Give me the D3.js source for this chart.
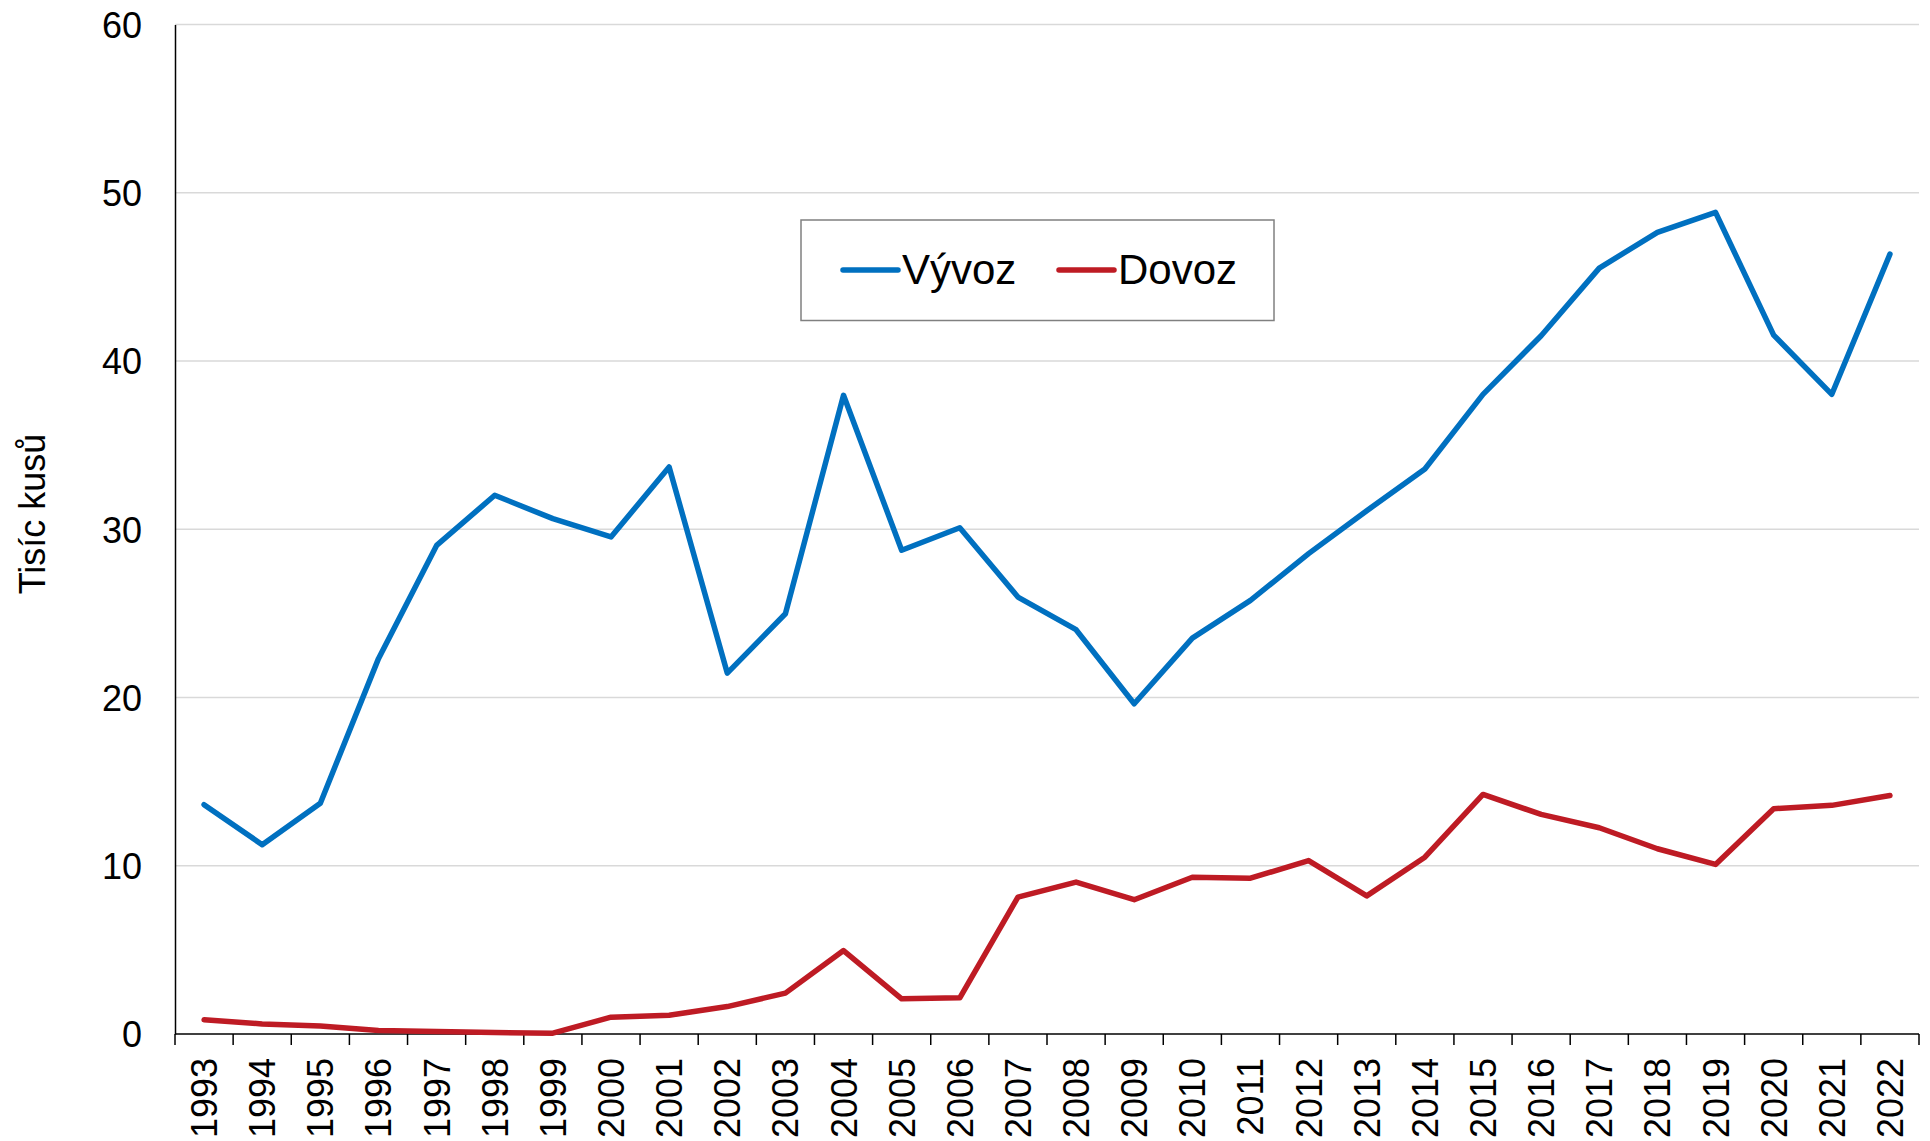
<!DOCTYPE html>
<html>
<head>
<meta charset="utf-8">
<script src="https://cdn.jsdelivr.net/npm/d3@7"></script>
<style>
  body { margin: 0; background: #fff; }
  text { font-family: "Liberation Sans", Arial, sans-serif; fill: #000; }
</style>
</head>
<body>
<div id="chart"></div>
<script>
// data (thousands of pieces)
var years = ["1993","1994","1995","1996","1997","1998","1999","2000","2001","2002",
             "2003","2004","2005","2006","2007","2008","2009","2010","2011","2012",
             "2013","2014","2015","2016","2017","2018","2019","2020","2021","2022"];
var vyvoz = [13.63, 11.25, 13.72, 22.31, 29.04, 32.02, 30.63, 29.54, 33.70, 21.45,
             24.98, 37.96, 28.75, 30.09, 25.97, 24.03, 19.63, 23.53, 25.77, 28.55,
             31.1, 33.58, 38.02, 41.5, 45.52, 47.65, 48.83, 41.54, 38.02, 46.35];
var dovoz = [0.84, 0.6, 0.47, 0.21, 0.15, 0.09, 0.05, 1.0, 1.12, 1.63,
             2.43, 4.96, 2.09, 2.15, 8.13, 9.03, 7.98, 9.32, 9.26, 10.31,
             8.21, 10.51, 14.24, 13.05, 12.26, 11.01, 10.08, 13.39, 13.59, 14.18];
var yTicks = [0, 10, 20, 30, 40, 50, 60];
var seriesNames = ["Vývoz", "Dovoz"];
var colors = ["#0070c0", "#be1b24"];

var W = 1930, H = 1141;
var margin = {top: 24.5, right: 11, bottom: 107, left: 175};

var svg = d3.select("#chart").append("svg")
    .attr("width", W)
    .attr("height", H);

var x = d3.scaleBand()
    .domain(years)
    .range([margin.left, W - margin.right])
    .padding(0);
var y = d3.scaleLinear()
    .domain([0, 60])
    .range([H - margin.bottom, margin.top]);

var cx = function(yr) { return x(yr) + x.bandwidth() / 2; };

// gridlines
svg.append("g").selectAll("line")
    .data(yTicks.filter(function(d) { return d > 0; }))
  .enter().append("line")
    .attr("x1", margin.left).attr("x2", W - margin.right)
    .attr("y1", function(d) { return y(d); })
    .attr("y2", function(d) { return y(d); })
    .attr("stroke", "#d9d9d9")
    .attr("stroke-width", 1.6);

// y axis
var yAxis = svg.append("g")
    .attr("transform", "translate(" + margin.left + ",0)")
    .call(d3.axisLeft(y).tickValues(yTicks).tickSize(0).tickPadding(33));
yAxis.select(".domain").attr("stroke", "#000").attr("stroke-width", 1.5);
yAxis.selectAll("text")
    .style("font-size", "36px")
    .attr("dy", "0.36em");

// x axis (ticks between categories)
var xAxis = svg.append("g");
var baseY = y(0);
xAxis.append("line")
    .attr("x1", margin.left).attr("x2", W - margin.right)
    .attr("y1", baseY).attr("y2", baseY)
    .attr("stroke", "#000").attr("stroke-width", 1.5);
var bounds = years.map(function(d) { return x(d); }).concat([x.range()[1]]);
xAxis.selectAll(".tick")
    .data(bounds)
  .enter().append("line")
    .attr("x1", function(d) { return d; })
    .attr("x2", function(d) { return d; })
    .attr("y1", baseY).attr("y2", baseY + 11)
    .attr("stroke", "#000").attr("stroke-width", 1.5);
xAxis.selectAll("text")
    .data(years)
  .enter().append("text")
    .attr("transform", function(d) { return "translate(" + cx(d) + "," + (baseY + 24) + ") rotate(-90)"; })
    .attr("text-anchor", "end")
    .attr("dy", "0.36em")
    .style("font-size", "36px")
    .text(function(d) { return d; });

// y title
svg.append("text")
    .attr("transform", "translate(45,514) rotate(-90)")
    .attr("text-anchor", "middle")
    .style("font-size", "36px")
    .text("Tisíc kusů");

// lines
var line = d3.line()
    .x(function(d, i) { return cx(years[i]); })
    .y(function(d) { return y(d); });

[vyvoz, dovoz].forEach(function(s, i) {
  svg.append("path")
      .datum(s)
      .attr("fill", "none")
      .attr("stroke", colors[i])
      .attr("stroke-width", 5.5)
      .attr("stroke-linejoin", "round")
      .attr("stroke-linecap", "round")
      .attr("d", line);
});

// legend
var lg = svg.append("g");
lg.append("rect")
    .attr("x", 801).attr("y", 220)
    .attr("width", 473).attr("height", 100.5)
    .attr("fill", "#fff")
    .attr("stroke", "#808080")
    .attr("stroke-width", 1.5);
var lx = [843, 1059];
seriesNames.forEach(function(n, i) {
  lg.append("line")
      .attr("x1", lx[i]).attr("x2", lx[i] + 55)
      .attr("y1", 270).attr("y2", 270)
      .attr("stroke", colors[i])
      .attr("stroke-width", 5.5)
      .attr("stroke-linecap", "round");
  lg.append("text")
      .attr("x", lx[i] + 59)
      .attr("y", 284)
      .style("font-size", "42px")
      .text(n);
});
</script>
</body>
</html>
